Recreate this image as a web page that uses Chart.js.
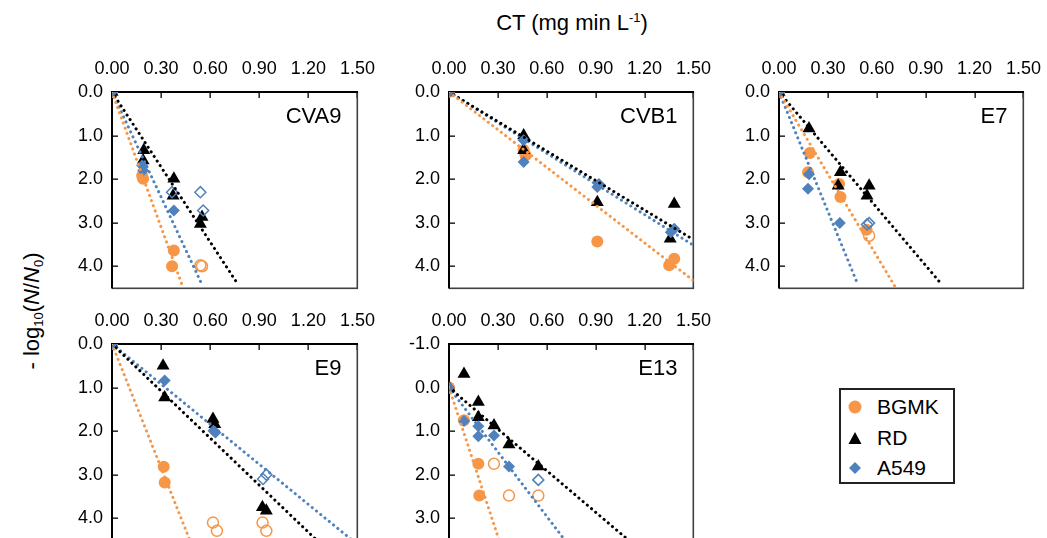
<!DOCTYPE html>
<html>
<head>
<meta charset="utf-8">
<script src="https://cdn.jsdelivr.net/npm/chart.js"></script>
<style>
  body { margin: 0; width: 1047px; height: 538px; overflow: hidden; background: #fff; position: relative;
         font-family: "Liberation Sans", Arial, sans-serif; color: #000; }
  canvas { position: absolute; }
  #title { position: absolute; left: 572px; top: 10px; transform: translateX(-50%); font-size: 22px; line-height: 26px; white-space: nowrap; }
  #title sup { font-size: 13px; vertical-align: 8px; line-height: 0; }
  #ylabel { position: absolute; left: 32px; top: 311px; transform: translate(-50%, -50%) rotate(-90deg); font-size: 22px; white-space: nowrap; line-height: 26px; }
  #ylabel sub { font-size: 13px; vertical-align: -4px; line-height: 0; }
  #legend { position: absolute; left: 839px; top: 388px; width: 116px; height: 96px; box-sizing: border-box;
            border: 2px solid #222; font-size: 21px; }
  #legend .row { position: absolute; left: 0; height: 24px; line-height: 24px; }
  #legend svg { position: absolute; left: 7px; top: 5px; }
  #legend span { position: absolute; left: 36px; white-space: nowrap; }
</style>
</head>
<body>
<div id="title">CT (mg min L<sup>-1</sup>)</div>
<div id="ylabel">- log<sub>10</sub>(<i>N</i>/<i>N</i><sub>0</sub>)</div>
<div id="legend">
  <div class="row" style="top:5px"><svg width="14" height="14"><circle cx="7" cy="7" r="6.5" fill="#F79646"/></svg><span>BGMK</span></div>
  <div class="row" style="top:36px"><svg width="14" height="14"><polygon points="7,1 13.5,13 0.5,13" fill="#000"/></svg><span>RD</span></div>
  <div class="row" style="top:66px"><svg width="14" height="14"><polygon points="7,1 13,7 7,13 1,7" fill="#4F81BD"/></svg><span>A549</span></div>
</div>
<script>
// panel names and axis ranges
const panelNames = ['CVA9', 'CVB1', 'E7', 'E9', 'E13'];
const yMins = [0, 0, 0, 0, -1];
const yMaxs = [4.5, 4.5, 4.5, 4.5, 3.5];
const xTickStep = 0.3;

// measured points [CT, -log10(N/N0)], one list per panel
const bgmkFilled = [
  [[0, 0], [0.184, 1.92], [0.19, 1.99], [0.378, 3.64], [0.367, 4.0]],
  [[0, 0], [0.458, 1.33], [0.47, 1.45], [0.91, 3.43], [1.351, 3.98], [1.382, 3.83]],
  [[0, 0], [0.189, 1.40], [0.178, 1.84], [0.369, 2.11], [0.377, 2.41], [0.537, 3.16]],
  [[0, 0], [0.316, 2.82], [0.322, 3.18]],
  [[0, 0], [0.092, 0.75], [0.18, 1.75], [0.186, 2.48]]
];
// open markers (below detection limit)
const bgmkOpen = [
  [[0.54, 3.98], [0.55, 4.0]],
  [],
  [[0.553, 3.30]],
  [[0.617, 4.1], [0.641, 4.29], [0.92, 4.1], [0.943, 4.29]],
  [[0.276, 1.75], [0.368, 2.48], [0.548, 2.48]]
];
const rdPoints = [
  [[0, 0], [0.194, 1.34], [0.19, 1.57], [0.378, 1.99], [0.373, 2.38], [0.55, 2.87], [0.54, 3.03]],
  [[0, 0], [0.458, 1.0], [0.458, 1.34], [0.91, 2.53], [1.357, 3.37], [1.382, 2.57]],
  [[0, 0], [0.184, 0.84], [0.377, 1.84], [0.363, 2.15], [0.553, 2.15], [0.54, 2.38]],
  [[0, 0], [0.312, 0.5], [0.322, 1.23], [0.617, 1.72], [0.628, 1.84], [0.919, 3.75], [0.943, 3.83]],
  [[0, 0], [0.092, -0.31], [0.18, 0.33], [0.18, 0.68], [0.276, 0.87], [0.368, 1.31], [0.548, 1.81]]
];
const a549Filled = [
  [[0, 0], [0.184, 1.69], [0.19, 1.80], [0.378, 2.72]],
  [[0, 0], [0.458, 1.11], [0.458, 1.61], [0.92, 2.11], [0.91, 2.18], [1.361, 3.22], [1.382, 3.14]],
  [[0, 0], [0.184, 1.89], [0.178, 2.22], [0.373, 3.01]],
  [[0, 0], [0.322, 0.84], [0.62, 1.99], [0.632, 2.03]],
  [[0, 0], [0.092, 0.77], [0.18, 0.89], [0.18, 1.12], [0.276, 1.10], [0.368, 1.81]]
];
const a549Open = [
  [[0.367, 2.30], [0.54, 2.30], [0.557, 2.72]],
  [],
  [[0.553, 3.01], [0.54, 3.04]],
  [[0.923, 3.1], [0.943, 3.0]],
  [[0.548, 2.12]]
];

// dotted trendlines through the origin, end point
const bgmkTrendEnd = [[0.435, 4.5], [1.5, 4.33], [0.717, 4.5], [0.475, 4.5], [0.307, 3.5]];
const rdTrendEnd = [[0.765, 4.39], [1.5, 3.39], [0.992, 4.39], [1.25, 4.5], [1.10, 3.5]];
const a549TrendEnd = [[0.541, 4.35], [1.5, 3.52], [0.486, 4.44], [1.466, 4.5], [0.71, 3.5]];

// plot area boxes on the page [left, top, right, bottom]
const boxes = [
  [112, 92, 357, 287.75],
  [449, 92, 693, 287.75],
  [779, 92, 1023, 287.75],
  [112, 343.5, 357, 539.25],
  [449, 343.5, 693, 539.25]
];

const ORANGE = '#F79646', BLUE = '#4F81BD', BLACK = '#000000';
const FONT = '"Liberation Sans", Arial, sans-serif';
const AXW = 60, AXH = 50, PADR = 25, PADB = 20;

// plot frame and inward ticks, drawn with filled rects
function drawFrame(chart) {
  const ctx = chart.ctx;
  const a = chart.chartArea;
  const sx = chart.scales.x, sy = chart.scales.y;
  const l = Math.round(a.left), t = Math.round(a.top);
  const r = Math.round(a.right), b = Math.round(a.bottom);
  ctx.save();
  ctx.fillStyle = '#000000';
  sx.ticks.forEach(tk => {
    const px = Math.round(sx.getPixelForValue(tk.value));
    ctx.fillRect(px - 0.5, t, 1.3, 6);
  });
  sy.ticks.forEach(tk => {
    const py = Math.round(sy.getPixelForValue(tk.value));
    ctx.fillRect(l, py - 0.5, 6, 1.3);
  });
  ctx.fillStyle = '#404040';
  ctx.fillRect(r - 0.5, t, 1.6, b - t + 1);
  ctx.fillRect(l, b - 0.5, r - l + 1, 1.6);
  ctx.fillStyle = '#000000';
  ctx.fillRect(l - 1, t - 1, 2, b - t + 1.5);
  ctx.fillRect(l - 1, t - 1, r - l + 2, 2);
  ctx.restore();
}

const framePlugin = {
  id: 'frame',
  beforeDatasetsDraw(chart) {
    drawFrame(chart);
  },
  afterDraw(chart, args, opts) {
    const { ctx, chartArea: a } = chart;
    ctx.save();
    ctx.font = '22px ' + FONT;
    ctx.fillStyle = '#000';
    ctx.textAlign = 'right';
    ctx.textBaseline = 'middle';
    ctx.fillText(opts.label, a.right - 16, a.top + 25);
    ctx.restore();
  }
};

function pts(list) {
  return list.map(p => ({ x: p[0], y: p[1] }));
}

function trend(end, color) {
  return {
    data: [{ x: 0, y: 0 }, { x: end[0], y: end[1] }],
    showLine: true,
    pointRadius: 0,
    borderColor: color,
    borderWidth: 3,
    borderDash: [0.1, 5.4],
    borderCapStyle: 'round',
    fill: false,
    order: 0
  };
}

function buildChart(i, w, h) {
  const cv = document.createElement('canvas');
  cv.width = w; cv.height = h;
  cv.style.width = w + 'px'; cv.style.height = h + 'px';
  document.body.appendChild(cv);
  const chart = new Chart(cv, {
    type: 'scatter',
    data: {
      datasets: [
        trend(bgmkTrendEnd[i], ORANGE),
        trend(rdTrendEnd[i], BLACK),
        trend(a549TrendEnd[i], BLUE),
        { label: 'A549', data: pts(a549Filled[i]), pointStyle: 'rectRot', pointRadius: 6,
          backgroundColor: BLUE, borderColor: BLUE, borderWidth: 0, order: 1 },
        { label: 'A549 open', data: pts(a549Open[i]), pointStyle: 'rectRot', pointRadius: 5.5,
          backgroundColor: 'rgba(0,0,0,0)', borderColor: BLUE, borderWidth: 1.5, order: 1 },
        { label: 'RD', data: pts(rdPoints[i]), pointStyle: 'triangle', pointRadius: 7.5,
          backgroundColor: BLACK, borderColor: BLACK, borderWidth: 0, order: 2 },
        { label: 'BGMK', data: pts(bgmkFilled[i]), pointStyle: 'circle', pointRadius: 6,
          backgroundColor: ORANGE, borderColor: ORANGE, borderWidth: 0, order: 3 },
        { label: 'BGMK open', data: pts(bgmkOpen[i]), pointStyle: 'circle', pointRadius: 5.5,
          backgroundColor: 'rgba(0,0,0,0)', borderColor: ORANGE, borderWidth: 1.5, order: 3 }
      ]
    },
    options: {
      responsive: false,
      maintainAspectRatio: false,
      animation: false,
      events: [],
      layout: { padding: { left: 0, top: 0, right: PADR, bottom: PADB } },
      plugins: {
        legend: { display: false },
        tooltip: { enabled: false },
        frame: { label: panelNames[i] }
      },
      scales: {
        x: {
          type: 'linear',
          position: 'top',
          min: 0, max: 1.5,
          grid: { display: false, drawTicks: false },
          border: { display: false },
          afterFit: s => { s.height = AXH; },
          ticks: {
            stepSize: xTickStep,
            padding: 12,
            color: '#000',
            font: { family: FONT, size: 18 },
            maxRotation: 0,
            callback: v => Number(v).toFixed(2)
          }
        },
        y: {
          type: 'linear',
          position: 'left',
          reverse: true,
          min: yMins[i], max: yMaxs[i],
          grid: { display: false, drawTicks: false },
          border: { display: false },
          afterFit: s => { s.width = AXW; },
          ticks: {
            stepSize: 1,
            includeBounds: false,
            padding: 9,
            color: '#000',
            font: { family: FONT, size: 18 },
            callback: v => Number(v).toFixed(1)
          }
        }
      }
    },
    plugins: [framePlugin]
  });
  return { cv, chart };
}

panelNames.forEach((name, i) => {
  const [L, T, R, B] = boxes[i];
  let w = Math.round(R - L) + AXW + PADR;
  let h = Math.round(B - T) + AXH + PADB;
  // first pass: see how much room the layout leaves for the plot area
  let built = buildChart(i, w, h);
  const ca = built.chart.chartArea;
  const dw = Math.round((R - L) - (ca.right - ca.left));
  const dh = Math.round((B - T) - (ca.bottom - ca.top));
  if (dw !== 0 || dh !== 0) {
    built.chart.destroy();
    built.cv.remove();
    built = buildChart(i, w + dw, h + dh);
  }
  const ca2 = built.chart.chartArea;
  built.cv.style.left = (L - ca2.left) + 'px';
  built.cv.style.top = (T - ca2.top) + 'px';
});
</script>
</body>
</html>
